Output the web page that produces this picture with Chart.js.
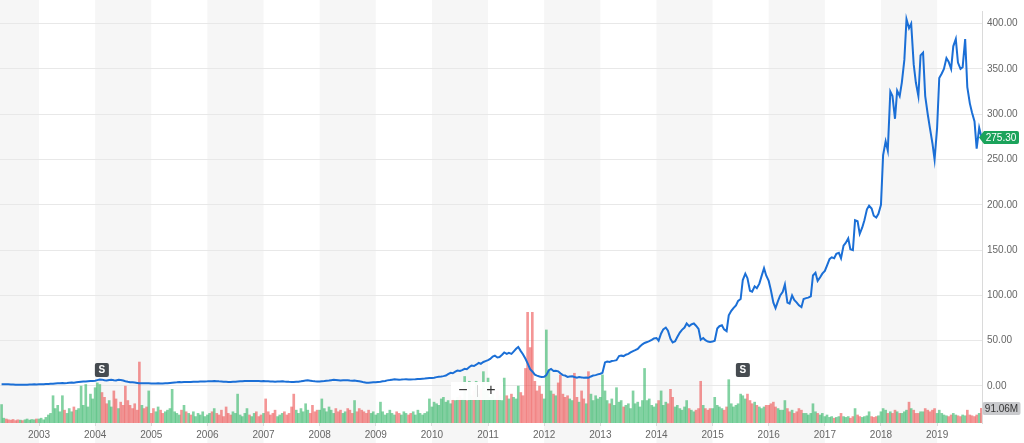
<!DOCTYPE html>
<html><head><meta charset="utf-8">
<script src="https://cdn.jsdelivr.net/npm/chart.js@4.4.1/dist/chart.umd.min.js"></script>
<style>html,body{margin:0;padding:0;background:#fff;overflow:hidden}#wrap{width:1024px;height:443px;position:relative}</style>
</head><body><div id="wrap"><canvas id="c" width="1024" height="443"></canvas></div>
<script>
// Semi-monthly samples (1st and 15th of each month), May 2002 .. Oct 2019
const START_YEAR = 2002, START_MONTH = 5;
const priceClose = [
 2.0,2.0,1.9,1.8,1.7,1.6,1.5,1.4,1.4,1.3,1.4,1.5,1.6,1.7,1.8,1.7,
 1.8,1.9,2.0,2.1,2.2,2.4,2.6,2.8,2.9,3.0,3.2,3.1,3.3,3.6,3.8,3.7,4.0,4.3,4.6,4.9,5.0,5.2,5.4,5.6,
 5.9,6.5,7.2,7.0,6.4,6.0,6.6,6.9,6.4,6.2,6.8,6.5,6.0,5.2,4.6,4.2,4.0,3.8,3.4,3.0,3.1,3.0,2.9,2.9,
 2.8,2.7,2.8,2.9,2.8,2.7,2.9,3.1,3.4,3.6,3.8,4.0,4.3,4.2,4.4,4.3,4.5,4.4,4.6,4.7,4.8,4.9,5.0,5.0,
 5.1,5.3,5.2,5.4,5.3,5.1,5.0,4.8,4.7,4.5,4.4,4.6,4.7,4.9,5.1,5.3,5.5,5.6,5.4,5.5,5.6,5.5,5.4,5.3,
 5.4,5.3,5.2,5.0,4.9,4.8,4.9,5.0,5.1,4.9,4.8,4.6,4.5,4.4,4.6,4.8,5.2,5.6,6.0,6.2,5.8,5.4,5.1,5.0,
 5.0,5.2,5.4,5.8,6.0,6.4,6.8,6.6,6.3,6.0,6.2,6.4,6.3,6.0,5.8,6.0,5.6,5.2,4.6,4.0,3.6,3.5,3.8,4.0,
 4.2,4.5,4.8,5.2,5.6,6.2,6.6,7.0,7.3,7.2,7.0,7.1,7.3,7.4,7.2,7.1,7.3,7.4,7.6,7.8,8.0,8.2,8.5,8.7,
 8.8,9.2,9.8,10.2,10.5,10.9,11.5,13.0,14.5,14.0,15.8,17.0,16.5,17.5,19.0,18.5,21.0,22.5,22.0,23.5,25.5,24.5,26.5,27.5,
 28.5,29.8,32.5,33.5,31.5,32.0,34.5,37.0,35.5,36.5,35.5,38.0,41.0,43.0,38.5,35.0,30.0,25.0,18.5,16.0,12.5,11.5,10.5,10.0,
 10.2,12.0,17.5,18.8,16.5,16.8,16.2,14.0,12.0,11.5,10.0,10.5,10.8,10.0,9.2,9.8,9.5,9.0,9.3,9.0,10.5,11.5,12.0,12.8,
 13.5,14.5,26.0,27.0,26.5,27.5,28.0,28.5,33.0,33.5,33.0,34.5,35.5,37.0,38.5,39.5,41.0,43.5,46.0,47.5,48.5,49.5,51.0,52.5,
 53.0,50.0,58.0,62.5,64.5,61.0,52.0,48.0,49.5,54.0,59.0,62.0,64.5,69.0,66.0,68.0,69.0,66.5,63.0,51.0,53.0,50.5,49.0,48.5,
 49.0,50.0,63.5,66.0,67.0,62.5,60.5,78.0,83.0,86.0,89.0,94.0,96.0,117.0,124.0,119.0,105.0,104.0,110.0,108.0,113.0,121.0,130.0,122.0,
 116.0,106.0,92.0,86.0,94.0,100.0,104.0,112.0,92.0,91.0,100.0,95.0,92.0,89.0,87.0,96.0,97.0,97.5,99.0,122.0,125.0,116.0,120.0,124.0,
 127.0,133.0,140.0,142.0,141.0,146.0,147.0,141.0,155.0,158.0,163.0,151.0,150.0,183.0,182.0,168.0,175.0,183.0,195.0,199.0,196.0,188.0,186.0,190.0,
 200.0,255.0,270.0,260.0,325.0,320.0,295.0,326.0,320.0,335.0,360.0,405.0,395.0,400.0,355.0,335.0,320.0,365.0,368.0,320.0,300.0,285.0,268.0,250.0,
 285.0,340.0,345.0,350.0,362.0,358.0,350.0,375.0,383.0,357.0,350.0,352.0,383.0,330.0,312.0,302.0,292.0,262.0,285.0,275.3
];
const volumeM = [
 115,30,25,20,18,22,15,20,18,15,20,25,18,22,20,25,
 25,30,20,35,50,60,170,90,110,70,170,80,60,90,70,100,80,90,230,110,240,100,180,150,
 220,250,240,190,160,120,140,100,200,150,90,130,110,230,140,110,90,120,80,380,110,90,100,200,
 60,90,70,100,80,60,70,80,90,210,70,60,50,80,110,70,60,50,70,40,60,50,70,40,
 50,60,70,90,60,50,80,40,100,60,50,70,60,180,50,40,60,90,50,40,60,70,40,50,
 60,150,70,50,60,80,40,50,60,70,50,60,100,180,80,60,90,70,120,80,60,110,70,80,
 80,150,90,70,100,80,60,90,70,80,60,70,90,80,60,140,70,90,80,70,60,80,60,70,
 50,60,130,70,50,60,80,60,50,70,60,50,70,60,50,60,70,50,80,60,50,60,70,150,
 100,130,120,110,150,160,130,140,120,150,140,160,170,150,290,140,260,170,200,260,180,210,320,200,
 280,160,180,150,200,170,140,280,170,150,180,160,150,230,190,170,340,690,470,690,260,200,230,180,
 150,580,330,200,180,170,250,300,180,160,170,150,140,310,160,130,200,150,120,320,180,140,170,150,
 160,300,200,140,120,150,110,220,130,140,100,110,120,90,200,120,130,100,140,340,140,150,110,100,
 120,140,200,110,130,120,210,160,100,110,90,80,100,140,90,80,70,80,90,260,110,90,80,90,
 90,160,110,100,90,80,100,270,120,100,110,120,180,170,150,180,140,120,130,110,100,90,100,110,
 110,120,130,100,90,80,80,140,90,70,80,60,70,90,80,60,60,50,60,120,70,60,50,60,
 40,50,35,40,30,35,40,60,40,35,40,30,40,90,50,40,35,40,45,70,40,35,40,45,
 70,90,80,60,70,60,80,70,60,60,70,80,130,90,80,60,60,70,70,90,80,70,80,90,
 60,80,60,50,45,40,50,60,50,45,40,50,45,80,50,45,40,50,60,91.06
];
const yearTicks = [2003,2004,2005,2006,2007,2008,2009,2010,2011,2012,2013,2014,2015,2016,2017,2018,2019];
const priceTicks = [0,50,100,150,200,250,300,350,400];
const splitDates = [2004.12, 2015.54];
const X_MIN = 2002.305, X_MAX = 2019.80;

// category dates (decimal years) for each sample
const dates = [];
{ let y = START_YEAR, m = START_MONTH;
  while (dates.length < priceClose.length) {
    dates.push(y + (m - 1) / 12);
    if (dates.length < priceClose.length) dates.push(y + (m - 1 + 0.46) / 12);
    m++; if (m > 12) { m = 1; y++; }
  } }

const FONT = '"Liberation Sans", Arial, Helvetica, sans-serif';
Chart.defaults.font.family = FONT;
Chart.defaults.font.size = 10;

const barColors = volumeM.map((v, i) => (i === 0 || priceClose[i] >= priceClose[i-1]) ? 'rgba(46,180,100,0.6)' : 'rgba(236,80,80,0.6)');

const bgPlugin = {
  id: 'bg',
  beforeDraw(chart) {
    const {ctx, chartArea: a, scales: {x}} = chart;
    ctx.save();
    ctx.fillStyle = '#fff';
    ctx.fillRect(0, 0, chart.width, chart.height);
    ctx.fillStyle = '#f6f6f6';
    const first = yearTicks[0] - 1;
    for (let yr = first; yr <= yearTicks[yearTicks.length-1]; yr += 2) {
      const x0 = Math.max(a.left, x.getPixelForValue(yr));
      const x1 = Math.min(a.right, x.getPixelForValue(yr + 1));
      if (x1 > x0) ctx.fillRect(x0, 0, x1 - x0, chart.height);
    }
    ctx.restore();
  }
};

function roundRect(ctx, x, y, w, h, r) {
  ctx.beginPath();
  ctx.moveTo(x + r, y); ctx.lineTo(x + w - r, y); ctx.quadraticCurveTo(x + w, y, x + w, y + r);
  ctx.lineTo(x + w, y + h - r); ctx.quadraticCurveTo(x + w, y + h, x + w - r, y + h);
  ctx.lineTo(x + r, y + h); ctx.quadraticCurveTo(x, y + h, x, y + h - r);
  ctx.lineTo(x, y + r); ctx.quadraticCurveTo(x, y, x + r, y);
  ctx.closePath();
}

const overlayPlugin = {
  id: 'overlay',
  afterDraw(chart) {
    const {ctx, chartArea: a, scales: {x, y, y2}} = chart;
    ctx.save();
    // split markers
    const base = y.getPixelForValue(0);
    splitDates.forEach(d => {
      const sx = x.getPixelForValue(d);
      ctx.fillStyle = '#464b50';
      roundRect(ctx, sx - 7, base - 23, 14, 14, 2); ctx.fill();
      ctx.fillStyle = '#fff';
      ctx.font = 'bold 10px ' + FONT;
      ctx.textAlign = 'center'; ctx.textBaseline = 'middle';
      ctx.fillText('S', sx, base - 15.5);
    });
    // zoom control
    ctx.fillStyle = 'rgba(255,255,255,0.96)';
    ctx.fillRect(451, 382, 52, 18);
    ctx.strokeStyle = '#d0d0d0'; ctx.lineWidth = 1;
    ctx.beginPath(); ctx.moveTo(477.5, 385); ctx.lineTo(477.5, 397); ctx.stroke();
    ctx.fillStyle = '#333';
    ctx.font = '16px ' + FONT;
    ctx.textAlign = 'center'; ctx.textBaseline = 'middle';
    ctx.fillText('\u2212', 463, 391);
    ctx.fillText('+', 491, 391);
    // last price label
    const lastP = priceClose[priceClose.length - 1];
    const py = Math.round(y.getPixelForValue(lastP)) + 0.5;
    ctx.fillStyle = '#1ba35b';
    ctx.beginPath();
    ctx.moveTo(a.right - 3, py);
    ctx.lineTo(a.right + 2, py - 6.5);
    ctx.lineTo(a.right + 35, py - 6.5);
    ctx.quadraticCurveTo(a.right + 37, py - 6.5, a.right + 37, py - 4.5);
    ctx.lineTo(a.right + 37, py + 4.5);
    ctx.quadraticCurveTo(a.right + 37, py + 6.5, a.right + 35, py + 6.5);
    ctx.lineTo(a.right + 2, py + 6.5);
    ctx.closePath(); ctx.fill();
    ctx.fillStyle = '#fff';
    ctx.font = '10px ' + FONT;
    ctx.textAlign = 'center'; ctx.textBaseline = 'middle';
    ctx.fillText(lastP.toFixed(2), a.right + 19, py + 0.5);
    // last volume label
    const lastV = volumeM[volumeM.length - 1];
    const vy = Math.round(y2.getPixelForValue(lastV)) + 0.5;
    ctx.fillStyle = '#c9cacd';
    roundRect(ctx, a.right + 0.5, vy - 6.5, 38, 13, 2); ctx.fill();
    ctx.fillStyle = '#333';
    ctx.fillText(lastV.toFixed(2) + 'M', a.right + 19.5, vy + 0.5);
    ctx.restore();
  }
};

new Chart(document.getElementById('c'), {
  type: 'line',
  data: {
    datasets: [
      {
        type: 'line', label: 'Price', yAxisID: 'y', order: 0,
        data: dates.map((d, i) => ({x: d, y: priceClose[i]})),
        borderColor: '#1b6fd6', borderWidth: 2, pointRadius: 0, tension: 0, fill: false
      },
      {
        type: 'bar', label: 'Volume', yAxisID: 'y2', order: 1,
        data: dates.map((d, i) => ({x: d, y: volumeM[i]})),
        backgroundColor: barColors, borderWidth: 0, barThickness: 2
      }
    ]
  },
  options: {
    responsive: false, animation: false, events: [],
    layout: {padding: 0},
    plugins: {legend: {display: false}, tooltip: {enabled: false}},
    scales: {
      x: {
        type: 'linear', min: X_MIN, max: X_MAX, offset: false, position: 'bottom',
        afterBuildTicks: s => { s.ticks = yearTicks.map(v => ({value: v})); },
        afterFit: s => { s.height = 20; },
        grid: {display: true, drawOnChartArea: false, offset: false, tickLength: 3, color: '#dcdcdc'},
        border: {display: false},
        ticks: {color: '#666', padding: 3, maxRotation: 0, autoSkip: false, font: {size: 10}, callback: v => String(v)}
      },
      y: {
        type: 'linear', position: 'right', min: -40.86, max: 413.97,
        afterBuildTicks: s => { s.ticks = priceTicks.map(v => ({value: v})); },
        afterFit: s => { s.width = 42; },
        grid: {color: '#e8e8e8', drawTicks: false},
        border: {display: true, color: '#dadada'},
        ticks: {color: '#666', padding: 5, font: {size: 10}, callback: v => Number(v).toFixed(2)}
      },
      y2: {
        type: 'linear', display: false, min: 0, max: 2568
      }
    }
  },
  plugins: [bgPlugin, overlayPlugin]
});
</script>
</body></html>
